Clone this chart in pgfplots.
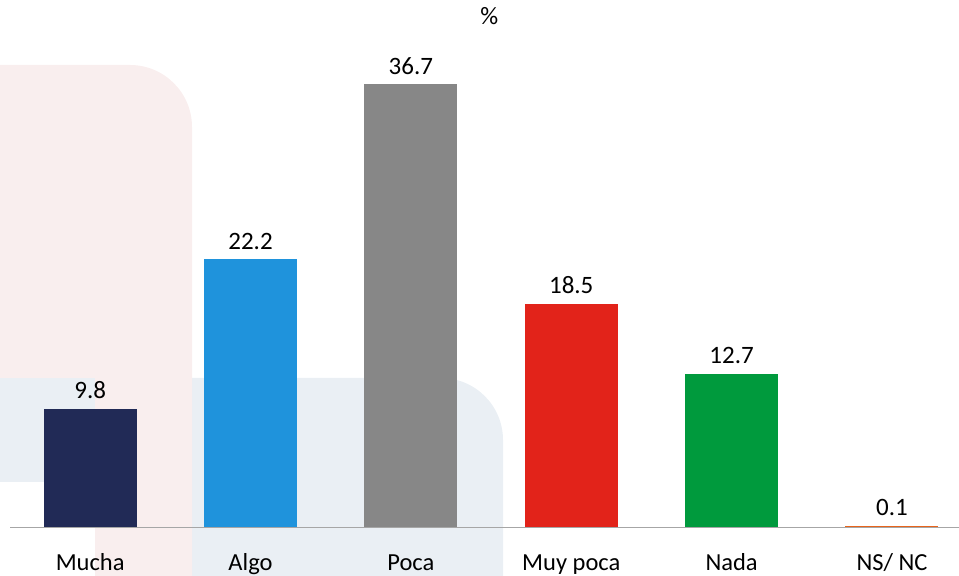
\documentclass[border=0pt]{standalone}
\usepackage{fontspec}
\setmainfont{Carlito}
\usepackage{pgfplots}
\pgfplotsset{compat=1.18}
\definecolor{cMucha}{HTML}{212A56}
\definecolor{cAlgo}{HTML}{1F93DC}
\definecolor{cPoca}{HTML}{878787}
\definecolor{cMuy}{HTML}{E2231A}
\definecolor{cNada}{HTML}{009A3D}
\definecolor{cNs}{HTML}{E8641B}
\definecolor{bgpink}{HTML}{F9EEEE}
\definecolor{bgblue}{HTML}{EAEFF4}
\definecolor{axisgray}{HTML}{A6A6A6}
\begin{document}
\begin{tikzpicture}
\path[use as bounding box] (0,0) rectangle (959bp,576bp);
\fill[bgblue] (0,0) -- (0,198bp) -- (441bp,198bp) arc[start angle=90,end angle=0,radius=62bp] -- (503bp,0) -- cycle;
\fill[white] (0,0) rectangle (95bp,94bp);
\fill[bgpink] (0,198bp) -- (0,511bp) -- (130bp,511bp) arc[start angle=90,end angle=0,radius=62bp] -- (192bp,0) -- (95bp,0) -- (95bp,198bp) -- cycle;
\begin{axis}[
  at={(10bp,49bp)}, anchor=south west,
  scale only axis, width=949bp, height=443bp,
  xmin=-0.5, xmax=5.418, ymin=0, ymax=36.7,
  ybar,
  every axis plot/.append style={bar width=0.58, bar shift=0pt, draw=none},
  axis x line=bottom, axis y line=none,
  axis line style={-, draw=axisgray, line width=1bp},
  xtick={0,1,2,3,4,5},
  xticklabels={Mucha,Algo,Poca,Muy poca,Nada,NS/ NC},
  major tick length=0pt,
  xticklabel style={anchor=base, yshift=-43bp},
  font=\fontsize{24.5bp}{29bp}\selectfont,
  clip=false,
  nodes near coords,
  nodes near coords style={anchor=south, inner sep=0pt, yshift=9.5bp, font=\fontsize{25bp}{29bp}\selectfont, text=black},
  /pgf/number format/assume math mode=true,
  /pgf/number format/fixed, /pgf/number format/precision=1, /pgf/number format/fixed zerofill,
  title={\%},
  title style={at={(axis description cs:0.505,1)}, anchor=center, yshift=62bp, font=\fontsize{25bp}{29bp}\selectfont},
]
\addplot[fill=cMucha] coordinates {(0,9.8)};
\addplot[fill=cAlgo] coordinates {(1,22.2)};
\addplot[fill=cPoca] coordinates {(2,36.7)};
\addplot[fill=cMuy] coordinates {(3,18.5)};
\addplot[fill=cNada] coordinates {(4,12.7)};
\addplot[fill=cNs] coordinates {(5,0.1)};
\end{axis}
\end{tikzpicture}
\end{document}
